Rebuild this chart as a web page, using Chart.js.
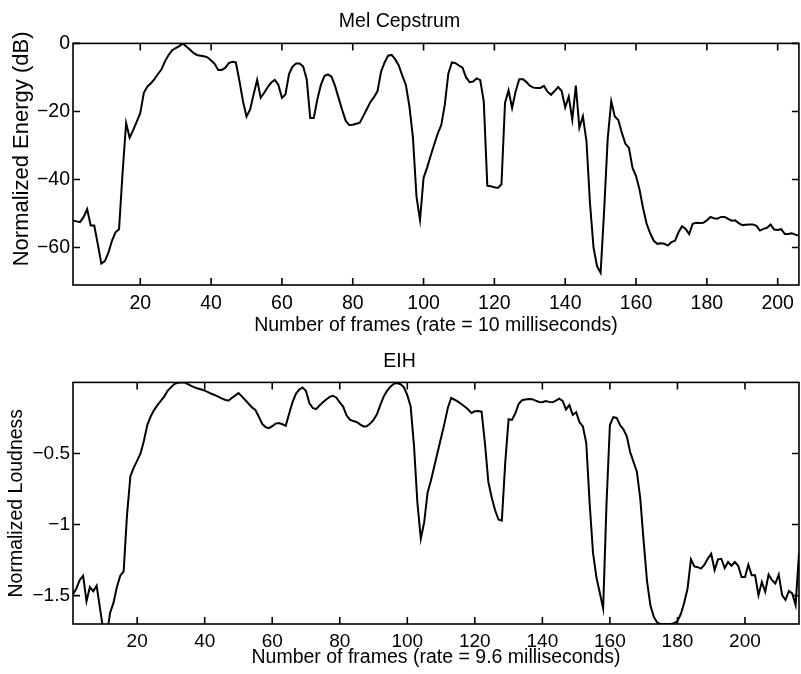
<!DOCTYPE html>
<html>
<head>
<meta charset="utf-8">
<script src="https://cdn.jsdelivr.net/npm/chart.js@4.4.1/dist/chart.umd.min.js"></script>
<style>
  html, body { margin: 0; padding: 0; background: #fff; }
  #wrap { position: relative; width: 801px; height: 674px; }
  canvas { position: absolute; left: 0; }
  #melChart { top: 0; }
  #eihChart { top: 337px; }
</style>
</head>
<body>
<div id="wrap">
  <canvas id="melChart" width="801" height="337"></canvas>
  <canvas id="eihChart" width="801" height="337"></canvas>
</div>
<script>
// Mel Cepstrum, normalized energy (dB), one value per frame starting at frame 1
var melValues = [
  -52, -52.3, -52.5, -51, -48.7, -53.5, -53.5, -59, -64.7, -64,
  -61.5, -58, -55.5, -54.6, -38, -23.4, -27.7, -25.5, -23, -20.5,
  -14.5, -12.7, -11.7, -10.5, -9, -7.6, -5.2, -3.4, -2, -1.4,
  -0.8, 0, -0.9, -1.8, -2.8, -3.4, -3.6, -3.8, -4.1, -5,
  -6, -7.8, -7.8, -7.2, -5.8, -5.4, -5.6, -11, -17, -21.5,
  -19.5, -15, -10.7, -16, -14.5, -12.8, -11.5, -10.7, -12.2, -16,
  -15, -9, -6.8, -5.9, -5.9, -6.8, -10.5, -21.9, -21.9, -16.5,
  -12.2, -9.6, -9.1, -9.8, -12.5, -16, -19.5, -22.7, -24, -23.9,
  -23.6, -23.3, -21.3, -19.3, -17.2, -15.8, -14, -8.3, -5.6, -3.6,
  -3.4, -4.7, -6.5, -9.5, -12.2, -18.5, -27.7, -45, -51.9, -39.5,
  -36.5, -33, -29.7, -26.5, -24, -18, -8.8, -5.6, -5.8, -6.5,
  -7.1, -10, -11.4, -11.2, -10.3, -10.8, -17, -41.8, -42, -42.3,
  -42.5, -41.4, -17.5, -13.8, -19, -14.1, -10.6, -10.5, -11.3, -12.4,
  -13, -13.1, -13.1, -12.5, -14.2, -15.1, -14, -12.8, -14, -18.8,
  -15.6, -22.4, -12.4, -24.8, -21.4, -28.7, -47, -60, -65.5, -67.4,
  -49, -28, -17, -21.5, -22.5, -26.3, -29.5, -30.7, -36.5, -39,
  -43, -48.5, -53, -55.8, -58, -58.9, -58.7, -58.9, -59.4, -58.4,
  -58, -55.5, -53.7, -54.5, -56, -53, -52.7, -52.8, -52.7, -52,
  -51, -51.4, -51.5, -51, -51, -51.6, -52.1, -52, -52.8, -53.4,
  -53.3, -53.2, -53.2, -53.6, -55, -54.5, -54.2, -53.2, -54.7, -54.8,
  -54.6, -56, -56, -55.8, -56.2, -56.5
];

// EIH, normalized loudness, one value per frame starting at frame 1
var eihValues = [
  -1.49, -1.45, -1.39, -1.36, -1.54, -1.44, -1.47, -1.43, -1.59, -1.75,
  -1.78, -1.62, -1.55, -1.44, -1.36, -1.33, -0.93, -0.66, -0.6, -0.55,
  -0.5, -0.41, -0.3, -0.24, -0.195, -0.16, -0.13, -0.1, -0.06, -0.035,
  -0.012, -0.003, 0, 0, -0.012, -0.025, -0.035, -0.043, -0.05, -0.058,
  -0.068, -0.08, -0.09, -0.1, -0.113, -0.122, -0.129, -0.11, -0.093, -0.075,
  -0.098, -0.124, -0.15, -0.176, -0.194, -0.24, -0.29, -0.314, -0.322, -0.308,
  -0.29, -0.286, -0.294, -0.306, -0.22, -0.14, -0.08, -0.05, -0.036, -0.06,
  -0.145, -0.18, -0.188, -0.163, -0.14, -0.12, -0.102, -0.094, -0.108, -0.14,
  -0.17, -0.232, -0.262, -0.272, -0.278, -0.295, -0.31, -0.308, -0.29, -0.264,
  -0.225, -0.16, -0.1, -0.06, -0.03, -0.01, -0.005, -0.013, -0.035, -0.09,
  -0.17, -0.45, -0.85, -1.1, -0.985, -0.776, -0.69, -0.59, -0.49, -0.39,
  -0.29, -0.18, -0.11, -0.122, -0.135, -0.152, -0.17, -0.19, -0.215, -0.203,
  -0.201, -0.206, -0.43, -0.7, -0.81, -0.9, -0.965, -0.973, -0.566, -0.259,
  -0.264, -0.217, -0.15, -0.125, -0.12, -0.117, -0.118, -0.128, -0.138, -0.14,
  -0.131, -0.137, -0.14, -0.129, -0.115, -0.13, -0.19, -0.16, -0.229, -0.21,
  -0.28, -0.31, -0.427, -0.85, -1.2, -1.37, -1.48, -1.59, -0.85, -0.3,
  -0.245, -0.25, -0.3, -0.33, -0.38, -0.49, -0.56, -0.63, -0.82, -1.12,
  -1.4, -1.57, -1.65, -1.69, -1.7, -1.7, -1.7, -1.7, -1.695, -1.68,
  -1.63, -1.55, -1.45, -1.245, -1.295, -1.3, -1.31, -1.283, -1.24, -1.206,
  -1.32, -1.245, -1.241, -1.306, -1.264, -1.29, -1.264, -1.29, -1.369, -1.369,
  -1.283, -1.357, -1.357, -1.497, -1.404, -1.473, -1.352, -1.392, -1.415, -1.352,
  -1.497, -1.531, -1.468, -1.485, -1.566, -1.2
];

var frameTicks = [20, 40, 60, 80, 100, 120, 140, 160, 180, 200];
var melTicks = [-60, -40, -20, 0];
var eihTicks = [-1.5, -1, -0.5];

var FONT = '"Liberation Sans", Arial, Helvetica, sans-serif';
var INK = '#000';

function toPoints(values) {
  return values.map(function (v, i) { return { x: i + 1, y: v }; });
}

function minusSign(v) {
  return String(v).replace('-', '\u2212');
}

// box round the plot plus inward tick marks on all four sides
var frameBox = {
  id: 'frameBox',
  afterDatasetsDraw: function (chart) {
    var a = chart.chartArea, ctx = chart.ctx, len = 7;
    ctx.save();
    ctx.strokeStyle = INK;
    ctx.lineWidth = 1.6;
    ctx.strokeRect(a.left, a.top, a.right - a.left, a.bottom - a.top);
    ctx.beginPath();
    chart.scales.x.ticks.forEach(function (t) {
      var px = chart.scales.x.getPixelForValue(t.value);
      ctx.moveTo(px, a.bottom); ctx.lineTo(px, a.bottom - len);
      ctx.moveTo(px, a.top); ctx.lineTo(px, a.top + len);
    });
    chart.scales.y.ticks.forEach(function (t) {
      var py = chart.scales.y.getPixelForValue(t.value);
      ctx.moveTo(a.left, py); ctx.lineTo(a.left + len, py);
      ctx.moveTo(a.right, py); ctx.lineTo(a.right - len, py);
    });
    ctx.stroke();
    ctx.restore();
  }
};

function makeChart(id, cfg) {
  var ctx = document.getElementById(id).getContext('2d');
  return new Chart(ctx, {
    type: 'line',
    data: {
      datasets: [{
        data: toPoints(cfg.values),
        borderColor: INK,
        borderWidth: 2,
        pointRadius: 0,
        tension: 0,
        fill: false
      }]
    },
    options: {
      responsive: false,
      animation: false,
      events: [],
      layout: { padding: { left: 0, right: 2, top: 0, bottom: 0 } },
      plugins: {
        legend: { display: false },
        tooltip: { enabled: false },
        title: {
          display: true,
          text: cfg.title,
          color: INK,
          font: { family: FONT, size: 19.5, weight: 'normal' },
          padding: cfg.titlePad
        }
      },
      scales: {
        x: {
          type: 'linear',
          min: 1,
          max: cfg.xMax,
          grid: { display: false, drawTicks: false },
          border: { display: false },
          afterBuildTicks: function (s) { s.ticks = frameTicks.map(function (v) { return { value: v }; }); },
          afterFit: function (s) { s.height = cfg.xHeight; },
          ticks: {
            color: INK,
            padding: cfg.xTickPad,
            maxRotation: 0,
            autoSkip: false,
            font: { family: FONT, size: cfg.tickSize },
            callback: function (v) { return minusSign(v); }
          },
          title: {
            display: true,
            text: cfg.xLabel,
            color: INK,
            font: { family: FONT, size: 19.5 },
            padding: { top: 0, bottom: cfg.xTitlePad }
          }
        },
        y: {
          min: cfg.yMin,
          max: cfg.yMax,
          grid: { display: false, drawTicks: false },
          border: { display: false },
          afterBuildTicks: function (s) { s.ticks = cfg.yTicks.map(function (v) { return { value: v }; }); },
          afterFit: function (s) { s.width = 73; },
          ticks: {
            color: INK,
            padding: 3,
            font: { family: FONT, size: cfg.tickSize },
            callback: function (v) { return minusSign(v); }
          },
          title: {
            display: true,
            text: cfg.yLabel,
            color: INK,
            font: { family: FONT, size: cfg.yLabelSize },
            padding: { top: cfg.yTitlePad, bottom: 0 }
          }
        }
      }
    },
    plugins: [frameBox]
  });
}

makeChart('melChart', {
  values: melValues,
  title: 'Mel Cepstrum',
  titlePad: { top: 10, bottom: 10 },
  xMax: 206,
  xHeight: 52,
  tickSize: 19.5,
  xTickPad: 7,
  xTitlePad: 0,
  xLabel: 'Number of frames (rate = 10 milliseconds)',
  yMin: -71,
  yMax: 0,
  yTicks: melTicks,
  // leading spaces lift the centred label, as in the original figure
  yLabel: '     Normalized Energy (dB)',
  yLabelSize: 22,
  yTitlePad: 9
});

makeChart('eihChart', {
  values: eihValues,
  title: 'EIH',
  titlePad: { top: 13, bottom: 9 },
  xMax: 216,
  xHeight: 50,
  tickSize: 19,
  xTickPad: 6,
  xTitlePad: 5,
  xLabel: 'Number of frames (rate = 9.6 milliseconds)',
  yMin: -1.7,
  yMax: 0,
  yTicks: eihTicks,
  yLabel: 'Normalized Loudness',
  yLabelSize: 19.5,
  yTitlePad: 5
});
</script>
</body>
</html>
